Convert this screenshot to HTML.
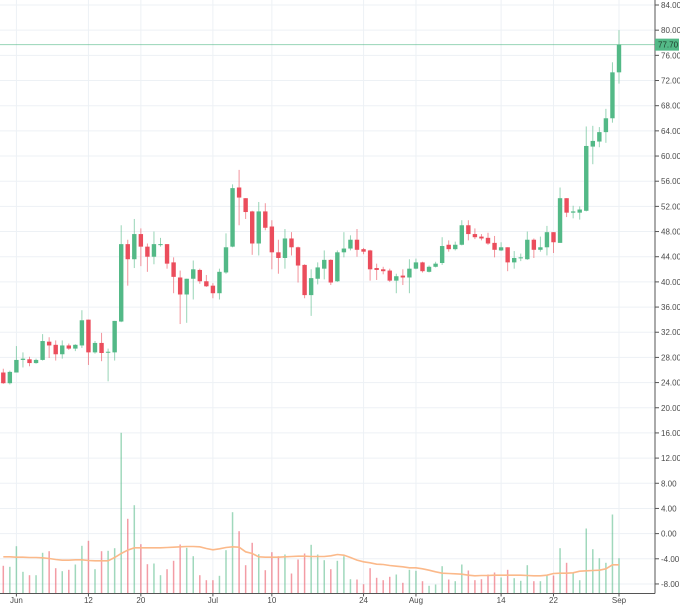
<!DOCTYPE html>
<html><head><meta charset="utf-8"><style>
html,body{margin:0;padding:0;background:#fff;}
svg{display:block;font-family:"Liberation Sans",sans-serif;}
</style></head><body>
<svg id="chart" width="680" height="605" viewBox="0 0 680 605"></svg>
<script>
const opens=[25.6,23.9,25.6,27.6,27.7,27.1,27.6,30.5,30.0,28.5,29.9,29.4,29.9,34.0,28.8,30.3,28.8,28.8,33.7,46.0,43.6,47.6,45.6,44.0,45.9,46.0,43.1,40.7,38.0,40.5,41.9,40.1,39.4,38.2,41.5,45.6,55.0,53.3,51.2,46.1,51.2,48.8,44.7,43.8,46.9,45.5,42.7,37.9,40.5,42.1,43.5,40.1,44.7,45.3,46.7,45.2,45.0,42.2,42.0,41.8,40.2,41.0,40.7,42.1,43.1,41.6,42.4,43.0,45.9,45.2,45.9,49.0,47.6,47.2,47.0,46.2,45.0,45.5,43.1,43.8,43.6,46.7,45.1,45.5,47.9,46.2,53.3,51.0,51.0,51.3,61.5,62.3,63.8,66.0,73.3];
const closes=[23.9,25.7,27.6,27.8,27.1,27.6,30.6,29.9,28.5,29.9,29.4,30.0,33.9,28.8,30.3,28.7,28.9,33.8,46.0,43.6,47.6,45.6,44.0,46.0,46.0,42.9,40.8,38.0,40.5,42.0,40.1,39.3,38.2,41.6,45.5,54.9,53.4,51.1,46.1,51.2,48.6,44.7,43.8,46.9,45.5,42.6,37.9,40.6,42.3,43.5,39.9,44.7,45.3,46.7,45.1,44.8,42.0,41.9,41.7,40.2,40.9,40.7,42.1,43.1,41.7,42.4,42.9,45.7,45.2,45.9,49.0,47.6,47.1,46.9,46.1,45.1,45.5,43.1,43.8,43.9,46.7,45.1,45.5,47.9,46.3,53.3,51.0,51.2,51.5,61.6,62.4,63.8,66.0,73.3,77.7];
const highs=[26.2,25.9,29.8,28.8,28.1,27.8,31.7,31.2,30.7,30.7,30.2,30.1,35.5,34.0,30.6,31.9,29.4,33.8,49.0,46.7,50.0,48.5,46.1,48.0,47.0,46.0,43.9,41.8,40.5,43.4,42.1,41.1,39.8,42.1,47.7,55.5,57.8,53.3,51.3,52.7,52.5,49.8,46.7,48.4,47.9,45.6,42.8,42.0,43.1,45.0,43.6,45.0,47.9,47.4,48.4,45.4,45.1,42.9,42.4,42.1,41.3,42.0,43.6,43.7,43.2,42.6,43.2,47.1,46.6,46.4,49.8,49.8,48.5,47.6,47.8,47.3,46.3,45.5,44.9,44.5,48.0,46.9,47.2,48.9,47.9,55.0,53.3,52.1,52.0,64.7,64.8,64.6,67.5,74.9,80.0];
const lows=[23.8,23.7,25.6,26.4,26.6,27.0,27.5,27.9,27.5,27.8,29.2,29.0,29.5,26.8,28.6,27.4,24.2,27.5,33.6,39.4,42.2,42.5,41.6,42.8,45.6,42.1,38.2,33.3,33.5,37.2,39.7,39.2,37.4,37.2,41.3,45.5,49.0,50.0,44.3,44.2,48.2,42.0,41.3,42.1,44.2,39.9,37.4,34.6,39.6,40.4,39.5,40.0,43.9,45.0,44.0,44.4,40.2,40.3,41.2,40.0,38.2,39.5,38.2,42.0,41.5,41.5,42.3,42.7,44.8,45.0,45.8,46.6,46.8,46.6,45.9,43.9,44.9,41.7,42.1,43.3,43.5,43.8,44.8,44.2,44.6,46.2,50.3,50.1,49.9,51.2,58.7,61.4,62.1,65.3,71.5];
const volumes=[27.7,26.7,47.3,21.7,18.3,18.3,40.7,42.3,25.3,22.3,23.7,29,47.7,52.7,24.3,42.3,42.7,45.3,160.7,74.7,88.3,49.3,29.3,30,18.3,24.3,32.7,49,45.7,37.3,18.3,13.3,13.3,17.7,43.3,81.3,62.3,28.3,50.7,39.3,23.3,41.3,37.3,39,20,34,40,48.7,39,33.3,24.3,32.7,37.3,14.3,14,9.3,25.3,15.7,13.3,16.7,19,10.7,23.7,22.7,12.3,7.7,9,27.3,14,12.3,29,23,13.3,14.3,19,21,16,23.7,15.3,12.7,28.3,12.3,12.3,19,18,45.3,30.7,20.7,13.3,65,44.3,35.3,30.7,79,35.3];
const volMA=[410,410,411,411,412,412,413,415,418,420,420,419,419,421,422,422,422,412,400,390,383,383,383,383,383,382,381,380,379,379,380,385,389,386,382,380,381,395,400,410,411,411,411,410,409,408,408,409,409,409,407,403,405,412,420,425,428,432,433,436,438,440,443,443,446,450,455,459,460,461,462,465,467,466,466,465,465,465,465,465,466,467,467,465,460,459,459,458,453,452,451,450,446,434,434].map(z=>(520-z)/3);
const priceTicks=[84,80,76,72,68,64,60,56,52,48,44,40,36,32,28,24,20,16,12,8,4,0,-4,-8];
const dateTickIdx=[2,13,21,32,41,55,63,76,84,94];
const dateTickLabels=["Jun","12","20","Jul","10","24","Aug","14","22","Sep"];
const lastPrice=77.7;

const NS="http://www.w3.org/2000/svg";
const svg=document.getElementById('chart');
const X=i=>3.3+i*6.55;
const Y=p=>5+(84-p)*6.293;
const VBASE=593.5;
const YV=v=>VBASE-v;
const GREEN="#53b987",RED="#eb4d5c";
function mk(tag,attrs,parent){const e=document.createElementNS(NS,tag);for(const k in attrs)e.setAttribute(k,attrs[k]);(parent||svg).appendChild(e);return e;}

const grid=mk('g',{});


priceTicks.forEach(t=>{
  const l=mk('line',{x1:0,x2:655,y1:Y(t),y2:Y(t),stroke:"#edf1f5","stroke-width":1},grid);
  
  
  const tk=mk('line',{x1:655,x2:659,y1:Y(t),y2:Y(t),stroke:"#555","stroke-width":1},grid);
  
  
  const tx=mk('text',{x:661,y:Y(t)+3,"font-size":"8","fill":"#4a4a4a"},grid);
  tx.textContent=t.toFixed(2);
  
  
});
dateTickIdx.forEach((d,k)=>{
  const l=mk('line',{x1:X(d),x2:X(d),y1:0,y2:VBASE,stroke:"#edf1f5","stroke-width":1},grid);
  
  
  const tk=mk('line',{x1:X(d),x2:X(d),y1:VBASE,y2:VBASE+3,stroke:"#555","stroke-width":1},grid);
  
  
  const tx=mk('text',{x:X(d),y:603,"font-size":"8","fill":"#4a4a4a","text-anchor":"middle"},grid);
  tx.textContent=dateTickLabels[k];
  
  
});

const vg=mk('g',{opacity:0.55});


volumes.forEach((v,i)=>{
  const up=closes[i]>=opens[i];
  const r=mk('rect',{x:X(i)-0.75,y:YV(v),width:1.5,height:v,fill:up?GREEN:RED},vg);
  
  
});
const ma=mk('polyline',{points:volMA.map((v,i)=>X(i)+","+YV(v)).join(" "),fill:"none",stroke:"#fbb98a","stroke-width":1.6});



const cg=mk('g',{});


opens.forEach((o,i)=>{
  const c=closes[i],up=c>=o,col=up?GREEN:RED;
  const g=mk('g',{},cg);
  
  
  mk('line',{x1:X(i),x2:X(i),y1:Y(highs[i]),y2:Y(lows[i]),stroke:col,"stroke-width":1,opacity:0.6},g);
  const top=Y(Math.max(o,c)),h=Math.max(1,Math.abs(Y(o)-Y(c)));
  mk('rect',{x:X(i)-2.2,y:top,width:4.4,height:h,fill:col},g);
});

const pl=mk('line',{x1:0,x2:655,y1:Y(lastPrice),y2:Y(lastPrice),stroke:GREEN,"stroke-width":1,opacity:0.6});


const ax=mk('line',{x1:655,x2:655,y1:0,y2:VBASE,stroke:"#555","stroke-width":1});


const bx=mk('line',{x1:0,x2:655,y1:VBASE,y2:VBASE,stroke:"#555","stroke-width":1});


const tag=mk('rect',{x:655,y:Y(lastPrice)-6,width:24,height:12,fill:GREEN});


const tt=mk('text',{x:658,y:Y(lastPrice)+3,"font-size":"8","fill":"#1d3a2a"});
tt.textContent=lastPrice.toFixed(2);


</script>
</body></html>
